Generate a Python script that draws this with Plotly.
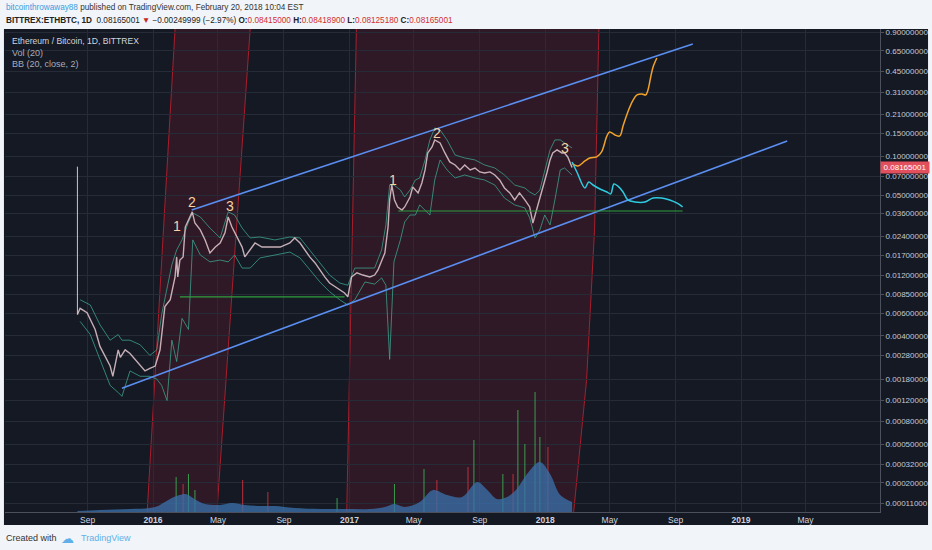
import numpy as np
import plotly.graph_objects as go

# TradingView log scale maps log10(price + 1e-4)
OFFSET = 1e-4

price_dates = [
    "2015-08-13", "2015-08-18", "2015-08-31", "2015-09-15", "2015-09-24", "2015-10-04", "2015-10-13",
    "2015-10-18", "2015-10-28", "2015-11-01", "2015-11-10", "2015-11-19", "2015-11-28", "2015-12-08",
    "2015-12-17", "2015-12-26", "2016-01-05", "2016-01-14", "2016-01-20", "2016-01-23", "2016-02-02",
    "2016-02-11", "2016-02-14", "2016-02-16", "2016-02-20", "2016-02-26", "2016-03-01", "2016-03-10",
    "2016-03-14", "2016-03-19", "2016-03-29", "2016-04-07", "2016-04-16", "2016-04-26", "2016-05-05",
    "2016-05-14", "2016-05-20", "2016-05-27", "2016-06-05", "2016-06-15", "2016-06-20", "2016-06-30",
    "2016-07-09", "2016-07-22", "2016-08-06", "2016-08-25", "2016-09-12", "2016-09-21", "2016-10-01",
    "2016-10-10", "2016-10-19", "2016-10-29", "2016-11-07", "2016-11-16", "2016-11-25", "2016-12-05",
    "2016-12-14", "2016-12-23", "2016-12-29", "2017-01-05", "2017-01-15", "2017-01-26", "2017-02-08",
    "2017-02-17", "2017-02-23", "2017-03-02", "2017-03-08", "2017-03-14", "2017-03-17", "2017-03-21",
    "2017-03-26", "2017-04-01", "2017-04-09", "2017-04-14", "2017-04-24", "2017-04-29", "2017-05-09",
    "2017-05-16", "2017-05-22", "2017-05-27", "2017-06-04", "2017-06-09", "2017-06-19", "2017-06-28",
    "2017-07-07", "2017-07-17", "2017-07-26", "2017-08-04", "2017-08-14", "2017-08-23", "2017-09-01",
    "2017-09-10", "2017-09-20", "2017-09-29", "2017-10-08", "2017-10-17", "2017-10-27", "2017-11-05",
    "2017-11-14", "2017-11-24", "2017-12-03", "2017-12-09", "2017-12-16", "2017-12-22", "2017-12-27",
    "2018-01-04", "2018-01-10", "2018-01-15", "2018-01-23", "2018-02-01", "2018-02-06", "2018-02-12",
    "2018-02-20",
]
price_close = [
    0.0059, 0.0066, 0.0061, 0.0045, 0.0033, 0.0027, 0.0023,
    0.0019, 0.0031, 0.0027, 0.0031, 0.0029, 0.0026, 0.0023,
    0.0021, 0.0022, 0.0023, 0.0031, 0.0051, 0.0068, 0.0077,
    0.0116, 0.0166, 0.0116, 0.0157, 0.0166, 0.0283, 0.0339,
    0.0371, 0.0304, 0.0269, 0.0225, 0.0178, 0.0198, 0.0213,
    0.0255, 0.0339, 0.0283, 0.0237, 0.0198, 0.0166, 0.0188,
    0.0213, 0.0198, 0.0198, 0.0198, 0.0213, 0.0233, 0.0213,
    0.0188, 0.0166, 0.0149, 0.0131, 0.0116, 0.0104, 0.0097,
    0.0092, 0.0087, 0.0081, 0.0116, 0.0125, 0.0120, 0.0116,
    0.0120, 0.0131, 0.0157, 0.0178, 0.0283, 0.0459, 0.0599,
    0.0459, 0.0405, 0.0384, 0.0405, 0.0484, 0.0578, 0.0520,
    0.0621, 0.0783, 0.1060, 0.1180, 0.1336, 0.1267, 0.1060,
    0.0903, 0.0856, 0.0783, 0.0856, 0.0783, 0.0811, 0.0756,
    0.0742, 0.0756, 0.0716, 0.0655, 0.0568, 0.0520, 0.0459,
    0.0520, 0.0459, 0.0405, 0.0304, 0.0384, 0.0459, 0.0548,
    0.0742, 0.0936, 0.1060, 0.1118, 0.1060, 0.1060, 0.0987,
    0.08165001,
]
first_wick = [0.0830, 0.0059]
last_price = 0.08165001

# Bollinger bands (20, close, 2)
bb_dates = [
    "2015-08-18", "2015-09-06", "2015-09-24", "2015-10-13", "2015-10-28", "2015-11-04", "2015-11-19",
    "2015-12-08", "2015-12-26", "2016-01-08", "2016-01-17", "2016-01-27", "2016-02-05", "2016-02-14",
    "2016-02-24", "2016-03-07", "2016-03-15", "2016-03-29", "2016-04-16", "2016-05-05", "2016-05-20",
    "2016-06-01", "2016-06-15", "2016-06-30", "2016-07-18", "2016-08-15", "2016-09-12", "2016-10-01",
    "2016-10-19", "2016-11-07", "2016-11-25", "2016-12-14", "2016-12-29", "2017-01-11", "2017-01-30",
    "2017-02-17", "2017-03-02", "2017-03-10", "2017-03-17", "2017-03-25", "2017-04-06", "2017-04-14",
    "2017-04-24", "2017-05-04", "2017-05-12", "2017-05-22", "2017-05-31", "2017-06-09", "2017-06-19",
    "2017-07-02", "2017-07-17", "2017-08-04", "2017-08-23", "2017-09-10", "2017-09-29", "2017-10-17",
    "2017-11-05", "2017-11-24", "2017-12-03", "2017-12-13", "2017-12-22", "2017-12-31", "2018-01-10",
    "2018-01-19", "2018-01-29", "2018-02-06", "2018-02-20",
]
bb_upper = [
    0.0077, 0.0070, 0.0049, 0.0037, 0.0041, 0.0037, 0.0037,
    0.0034, 0.0028, 0.0031, 0.0059, 0.0092, 0.0144, 0.0188,
    0.0225, 0.0310, 0.0364, 0.0339, 0.0278, 0.0233, 0.0371,
    0.0351, 0.0278, 0.0233, 0.0237, 0.0225, 0.0237, 0.0233,
    0.0188, 0.0152, 0.0120, 0.0104, 0.0100, 0.0136, 0.0136,
    0.0136, 0.0188, 0.0294, 0.0599, 0.0599, 0.0548, 0.0484,
    0.0548, 0.0655, 0.0679, 0.0936, 0.1336, 0.1653, 0.1596,
    0.1336, 0.1022, 0.0969, 0.0936, 0.0856, 0.0811, 0.0716,
    0.0599, 0.0568, 0.0529, 0.0502, 0.0548, 0.0783, 0.1118,
    0.1336, 0.1336, 0.1267, 0.1158,
]
bb_lower = [
    0.0052, 0.0041, 0.0026, 0.0016, 0.0014, 0.0013, 0.0021,
    0.0019, 0.0019, 0.0018, 0.0016, 0.0012, 0.0037, 0.0025,
    0.0055, 0.0045, 0.0225, 0.0172, 0.0152, 0.0157, 0.0152,
    0.0172, 0.0136, 0.0136, 0.0163, 0.0172, 0.0181, 0.0163,
    0.0131, 0.0106, 0.0089, 0.0077, 0.0070, 0.0077, 0.0106,
    0.0102, 0.0114, 0.0100, 0.0026, 0.0152, 0.0225, 0.0310,
    0.0351, 0.0351, 0.0420, 0.0384, 0.0351, 0.0655, 0.0936,
    0.0783, 0.0679, 0.0716, 0.0679, 0.0655, 0.0599, 0.0475,
    0.0420, 0.0398, 0.0333, 0.0233, 0.0269, 0.0351, 0.0294,
    0.0459, 0.0783, 0.0811, 0.0716,
]

# volume (relative units) - smoothed mass and the taller daily spikes
vol_dates = [
    "2015-08-13", "2015-09-24", "2015-11-19", "2015-12-26", "2016-01-10", "2016-01-23", "2016-02-05",
    "2016-02-20", "2016-03-01", "2016-03-10", "2016-03-21", "2016-04-07", "2016-05-05", "2016-05-27",
    "2016-06-20", "2016-07-22", "2016-08-15", "2016-09-21", "2016-11-07", "2016-12-23", "2017-02-08",
    "2017-03-08", "2017-03-26", "2017-04-14", "2017-05-12", "2017-06-06", "2017-07-02", "2017-07-30",
    "2017-08-27", "2017-09-15", "2017-10-03", "2017-10-22", "2017-11-09", "2017-11-28", "2017-12-22",
    "2018-01-10", "2018-01-29", "2018-02-20",
]
vol_mass = [
    1, 2, 3, 4, 6, 10, 14,
    17, 18, 16, 12, 8, 7, 9,
    7, 6, 6, 4, 3, 3, 3,
    5, 8, 5, 10, 22, 17, 15,
    30, 22, 13, 15, 23, 38, 50,
    38, 17, 10,
]
spike_dates = [
    "2016-02-13", "2016-02-26", "2016-03-07", "2016-03-19", "2016-06-16", "2016-08-02", "2016-12-09",
    "2017-03-26", "2017-05-20", "2017-06-13", "2017-08-10", "2017-08-21", "2017-10-14", "2017-11-02",
    "2017-11-11", "2017-11-24", "2017-12-13", "2017-12-22", "2018-01-06",
]
spike_vol = [35, 28, 38, 22, 32, 20, 14, 28, 43, 32, 45, 72, 38, 38, 102, 68, 120, 75, 65]
spike_up = [1, 0, 1, 1, 0, 0, 1, 1, 1, 0, 0, 1, 1, 0, 1, 1, 1, 1, 0]

# drawings
channel_up_dates = ["2016-03-13", "2018-10-03"]
channel_up_price = [0.0384, 0.7364]
channel_lo_dates = ["2015-11-04", "2019-03-28"]
channel_lo_price = [0.00152, 0.1312]
support_a_dates = ["2016-02-20", "2016-12-23"]
support_a_price = [0.0081, 0.0081]
support_b_dates = ["2017-04-02", "2018-09-14"]
support_b_price = [0.0377, 0.0377]

bull_dates = [
    "2018-02-21", "2018-03-03", "2018-03-16", "2018-03-25", "2018-04-07", "2018-04-16", "2018-04-26",
    "2018-05-01", "2018-05-11", "2018-05-20", "2018-05-26", "2018-06-04", "2018-06-13", "2018-06-21",
    "2018-06-30", "2018-07-07", "2018-07-11", "2018-07-17", "2018-07-21", "2018-07-28",
]
bull_price = [
    0.0871, 0.0840, 0.0919, 0.0969, 0.0987, 0.1079, 0.1434,
    0.1540, 0.1460, 0.1434, 0.1713, 0.2197, 0.2672, 0.2973,
    0.3027, 0.2973, 0.3192, 0.4169, 0.4892, 0.5741,
]
bear_dates = [
    "2018-02-20", "2018-03-01", "2018-03-16", "2018-03-23", "2018-03-31", "2018-04-13", "2018-04-26",
    "2018-05-03", "2018-05-09", "2018-05-16", "2018-05-26", "2018-06-04", "2018-06-17", "2018-07-06",
    "2018-07-21", "2018-08-06", "2018-08-21", "2018-09-03", "2018-09-14",
]
bear_price = [
    0.0902, 0.0755, 0.0568, 0.0632, 0.0599, 0.0558, 0.0529,
    0.0511, 0.0610, 0.0589, 0.0529, 0.0459, 0.0443, 0.0443,
    0.0475, 0.0475, 0.0459, 0.0435, 0.0405,
]

wave_labels = ["1", "2", "3", "1", "2", "3"]
wave_dates = ["2016-02-14", "2016-03-14", "2016-05-23", "2017-03-23", "2017-06-13", "2018-02-06"]
wave_price = [0.0289, 0.0443, 0.0412, 0.0655, 0.1512, 0.1158]

price_ticks = [0.9, 0.65, 0.45, 0.31, 0.21, 0.15, 0.10, 0.07, 0.05, 0.036, 0.024, 0.017, 0.012,
               0.0085, 0.006, 0.004, 0.0028, 0.0018, 0.0012, 0.0008, 0.0005, 0.00032, 0.0002, 0.00011]
time_ticks = ["2015-09-01", "2016-01-01", "2016-05-01", "2016-09-01", "2017-01-01", "2017-05-01",
              "2017-09-01", "2018-01-01", "2018-05-01", "2018-09-01", "2019-01-01", "2019-05-01"]
time_labels = ["Sep", "<b>2016</b>", "May", "Sep", "<b>2017</b>", "May", "Sep", "<b>2018</b>",
               "May", "Sep", "<b>2019</b>", "May"]


def ly(p):
    return float(np.log10(p + OFFSET))


def shifted(vals):
    return [v + OFFSET for v in vals]


FONT = "Liberation Sans, Arial, sans-serif"
BG = "#151924"
GRID = "#262b38"

fig = go.Figure()

# volume
fig.add_trace(go.Scatter(x=vol_dates, y=vol_mass, mode="lines", line=dict(width=0, shape="spline"),
                         fill="tozeroy", fillcolor="rgba(58,112,168,0.78)", yaxis="y", hoverinfo="skip"))
fig.add_trace(go.Bar(x=spike_dates, y=spike_vol, yaxis="y", width=[2 * 86400000] * len(spike_dates),
                     marker=dict(color=["rgba(60,170,80,0.85)" if u else "rgba(200,50,60,0.85)" for u in spike_up],
                                 line=dict(width=0)),
                     hoverinfo="skip"))

# bollinger bands
for band in (bb_upper, bb_lower):
    fig.add_trace(go.Scatter(x=bb_dates, y=shifted(band), yaxis="y2", mode="lines",
                             line=dict(color="rgba(62,168,145,0.75)", width=1), hoverinfo="skip"))

# price
fig.add_trace(go.Scatter(x=[price_dates[0]] * 2, y=shifted(first_wick), yaxis="y2", mode="lines",
                         line=dict(color="#c9c9cf", width=1), hoverinfo="skip"))
fig.add_trace(go.Scatter(x=price_dates, y=shifted(price_close), yaxis="y2", mode="lines",
                         line=dict(color="rgba(222,196,202,0.88)", width=1.4), name="ETHBTC"))

# channel and support lines
for xs, ys, col, w in [(channel_up_dates, channel_up_price, "#5a8ef0", 1.6),
                       (channel_lo_dates, channel_lo_price, "#5a8ef0", 1.6),
                       (support_a_dates, support_a_price, "#2f9e3c", 1.2),
                       (support_b_dates, support_b_price, "#2f9e3c", 1.2),
                       (bull_dates, bull_price, "#f0a22a", 1.5),
                       (bear_dates, bear_price, "#2fcbe0", 1.5)]:
    fig.add_trace(go.Scatter(x=xs, y=shifted(ys), yaxis="y2", mode="lines",
                             line=dict(color=col, width=w, shape="spline" if len(xs) > 2 else "linear"),
                             hoverinfo="skip"))

shapes = [
    # dark chart panel incl. axes
    dict(type="rect", xref="paper", yref="paper", x0=-0.0012, x1=1.0549, y0=-0.027, y1=1.0,
         fillcolor=BG, line=dict(width=0), layer="below"),
    # red time zones
    dict(type="path", xref="x", yref="paper", layer="between",
         path="M2015-12-21,0 L2016-02-11,1 L2016-06-30,1 L2016-04-29,0 Z",
         fillcolor="rgba(140,28,44,0.22)", line=dict(width=0)),
    dict(type="path", xref="x", yref="paper", layer="between",
         path="M2016-12-27,0 L2017-01-14,1 L2018-04-11,1 L2018-04-03,0.586 L2018-03-19,0.273 L2018-02-23,0 Z",
         fillcolor="rgba(140,28,44,0.22)", line=dict(width=0)),
]
for p in ["M2015-12-21,0 L2016-02-11,1", "M2016-04-29,0 L2016-06-30,1",
          "M2016-12-27,0 L2017-01-14,1", "M2018-02-23,0 L2018-03-19,0.273 L2018-04-03,0.586 L2018-04-11,1"]:
    shapes.append(dict(type="path", xref="x", yref="paper", layer="between", path=p,
                       line=dict(color="rgba(190,32,45,0.85)", width=1)))
# ellipses
for x0, x1, lo, hi in [("2017-02-23", "2017-04-20", 0.0163, 0.0632),
                       ("2017-12-09", "2018-03-20", 0.0213, 0.1288)]:
    shapes.append(dict(type="circle", xref="x", yref="y2", x0=x0, x1=x1, y0=ly(lo), y1=ly(hi),
                       fillcolor="rgba(150,120,45,0.2)", line=dict(color="#8f7c3e", width=1.2),
                       layer="above"))
# last price line
shapes.append(dict(type="line", xref="paper", yref="y2", x0=0, x1=1, y0=ly(last_price), y1=ly(last_price),
                   line=dict(color="rgba(225,75,90,0.65)", width=1)))

annotations = []
for t, d, p in zip(wave_labels, wave_dates, wave_price):
    annotations.append(dict(x=d, y=ly(p), xref="x", yref="y2", text=t, showarrow=False,
                            font=dict(family=FONT, size=14, color="#f3d3a3")))
annotations.append(dict(x=1, xref="paper", y=ly(last_price), yref="y2", xanchor="left", yanchor="middle",
                        text="0.08165001", showarrow=False, width=46, align="center", bgcolor="#e3505d",
                        borderpad=1, font=dict(family=FONT, size=8, color="white")))
# header / legend / footer texts
annotations += [
    dict(x=-0.0012, y=1.0435, xref="paper", yref="paper", xanchor="left", yanchor="middle", showarrow=False,
         text="<span style='color:#3d9be0'>bitcointhrowaway88</span> published on TradingView.com, "
              "February 20, 2018 10:04 EST",
         font=dict(family=FONT, size=8.2, color="#333333")),
    dict(x=-0.0012, y=1.0186, xref="paper", yref="paper", xanchor="left", yanchor="middle", showarrow=False,
         text="<b>BITTREX:ETHBTC, 1D</b>  0.08165001 <span style='color:#c62828'>▼</span> −0.00249999 (−2.97%) "
              "<b>O:</b><span style='color:#d32f2f'>0.08415000</span> <b>H:</b><span style='color:#d32f2f'>0.08418900</span> "
              "<b>L:</b><span style='color:#d32f2f'>0.08125180</span> <b>C:</b><span style='color:#d32f2f'>0.08165001</span>",
         font=dict(family=FONT, size=8.2, color="#222222")),
    dict(x=0.006, y=0.975, xref="paper", yref="paper", xanchor="left", yanchor="middle", showarrow=False,
         text="Ethereum / Bitcoin, 1D, BITTREX", font=dict(family=FONT, size=8.6, color="#d1d4dc")),
    dict(x=0.006, y=0.951, xref="paper", yref="paper", xanchor="left", yanchor="middle", showarrow=False,
         text="Vol (20)", font=dict(family=FONT, size=9, color="#a9acb6")),
    dict(x=0.006, y=0.927, xref="paper", yref="paper", xanchor="left", yanchor="middle", showarrow=False,
         text="BB (20, close, 2)", font=dict(family=FONT, size=9, color="#a9acb6")),
    dict(x=-0.0012, y=-0.054, xref="paper", yref="paper", xanchor="left", yanchor="middle", showarrow=False,
         text="Created with", font=dict(family=FONT, size=9, color="#333333")),
    dict(x=0.062, y=-0.054, xref="paper", yref="paper", xanchor="left", yanchor="middle", showarrow=False,
         text="☁", font=dict(family="DejaVu Sans", size=13, color="#5fb0e8")),
    dict(x=0.084, y=-0.054, xref="paper", yref="paper", xanchor="left", yanchor="middle", showarrow=False,
         text="TradingView", font=dict(family=FONT, size=9, color="#5fb0e8")),
]

fig.update_layout(
    width=932, height=550,
    margin=dict(l=5, r=52, t=29, b=38),
    paper_bgcolor="#f1f4f9", plot_bgcolor=BG,
    showlegend=False, barmode="overlay",
    font=dict(family=FONT, size=9, color="#c5c8d0"),
    shapes=shapes, annotations=annotations,
    xaxis=dict(type="date", range=["2015-03-31", "2019-09-17"], tickvals=time_ticks, ticktext=time_labels,
               showgrid=True, gridcolor=GRID, showline=True, linecolor="#4c505c", ticks="",
               zeroline=False, tickfont=dict(family=FONT, size=8.5, color="#d1d4dc"),
               automargin=False, fixedrange=True),
    yaxis=dict(range=[0, 483], visible=False, fixedrange=True),
    yaxis2=dict(overlaying="y", side="right", type="log",
                range=[np.log10(1.791e-4), np.log10(0.961)],
                tickvals=shifted(price_ticks), ticktext=[f"{v:.8f}" for v in price_ticks],
                showgrid=True, gridcolor=GRID, showline=True, linecolor="#4c505c",
                ticks="outside", ticklen=3, tickcolor="#4c505c", zeroline=False,
                tickfont=dict(family=FONT, size=8, color="#c5c8d0"),
                automargin=False, fixedrange=True),
)

# page body has a default 8px margin; remove it so the figure sits at the window origin
fig.write_html("out.html", config={"displayModeBar": False},
               post_script="document.body.style.margin='0px';")
